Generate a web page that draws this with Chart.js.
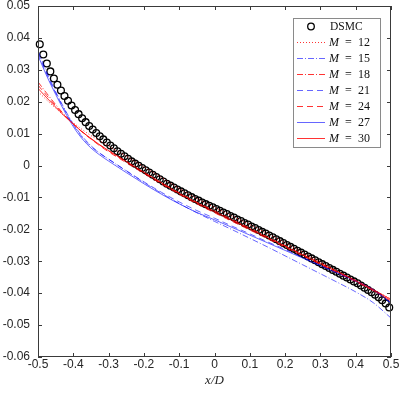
<!DOCTYPE html>
<html>
<head>
<meta charset="utf-8">
<script src="https://cdn.jsdelivr.net/npm/chart.js@4.4.0/dist/chart.umd.min.js"></script>
<style>
  html, body { margin: 0; padding: 0; background: #fff; }
</style>
</head>
<body>
<canvas id="myChart" width="399" height="397"></canvas>
<script>
// DSMC samples (x/D and value)
const dsmcX = [
  -0.495, -0.485, -0.475, -0.465, -0.455, -0.445, -0.435, -0.425, -0.415, -0.405,
  -0.395, -0.385, -0.375, -0.365, -0.355, -0.345, -0.335, -0.325, -0.315, -0.305,
  -0.295, -0.285, -0.275, -0.265, -0.255, -0.245, -0.235, -0.225, -0.215, -0.205,
  -0.195, -0.185, -0.175, -0.165, -0.155, -0.145, -0.135, -0.125, -0.115, -0.105,
  -0.095, -0.085, -0.075, -0.065, -0.055, -0.045, -0.035, -0.025, -0.015, -0.005,
  0.005, 0.015, 0.025, 0.035, 0.045, 0.055, 0.065, 0.075, 0.085, 0.095,
  0.105, 0.115, 0.125, 0.135, 0.145, 0.155, 0.165, 0.175, 0.185, 0.195,
  0.205, 0.215, 0.225, 0.235, 0.245, 0.255, 0.265, 0.275, 0.285, 0.295,
  0.305, 0.315, 0.325, 0.335, 0.345, 0.355, 0.365, 0.375, 0.385, 0.395,
  0.405, 0.415, 0.425, 0.435, 0.445, 0.455, 0.465, 0.475, 0.485, 0.495
];
const dsmcY = [
  0.0380, 0.0348, 0.0320, 0.0295, 0.0273, 0.0253, 0.0235, 0.0218, 0.0203, 0.0188,
  0.0174, 0.0161, 0.0148, 0.0136, 0.0124, 0.0113, 0.0102, 0.0092, 0.0082, 0.0072,
  0.0063, 0.0054, 0.0045, 0.0037, 0.0029, 0.0021, 0.0013, 0.0006, -0.0001, -0.0008,
  -0.0015, -0.0022, -0.0029, -0.0036, -0.0043, -0.0050, -0.0057, -0.0063, -0.0069, -0.0075,
  -0.0081, -0.0087, -0.0093, -0.0099, -0.0105, -0.0110, -0.0116, -0.0121, -0.0126, -0.0131,
  -0.0136, -0.0142, -0.0147, -0.0152, -0.0158, -0.0163, -0.0169, -0.0174, -0.0180, -0.0185,
  -0.0191, -0.0196, -0.0202, -0.0208, -0.0213, -0.0219, -0.0225, -0.0231, -0.0237, -0.0243,
  -0.0249, -0.0255, -0.0261, -0.0267, -0.0273, -0.0279, -0.0285, -0.0291, -0.0297, -0.0303,
  -0.0309, -0.0315, -0.0321, -0.0327, -0.0333, -0.0339, -0.0345, -0.0351, -0.0357, -0.0363,
  -0.0369, -0.0376, -0.0383, -0.0390, -0.0397, -0.0405, -0.0413, -0.0422, -0.0432, -0.0445
];

// x/D positions shared by the M curves
const gridX = [-0.5, -0.475, -0.45, -0.425, -0.4, -0.375, -0.35, -0.325, -0.3, -0.25, -0.2, -0.15,
  -0.1, -0.05, 0, 0.05, 0.1, 0.15, 0.2, 0.25, 0.3, 0.35, 0.4, 0.45, 0.5];

const m12 = [0.0232, 0.0205, 0.0180, 0.0156, 0.0134, 0.0113, 0.0094, 0.0077, 0.0061, 0.0029, -0.0004, -0.0038,
  -0.0072, -0.0103, -0.0131, -0.0158, -0.0185, -0.0213, -0.0242, -0.0272, -0.0302, -0.0331, -0.0360, -0.0390, -0.0418];
const m15 = [0.0360, 0.0292, 0.0232, 0.0178, 0.0130, 0.0092, 0.0062, 0.0039, 0.0020, -0.0017, -0.0053, -0.0087,
  -0.0119, -0.0148, -0.0175, -0.0201, -0.0228, -0.0255, -0.0283, -0.0311, -0.0339, -0.0367, -0.0396, -0.0430, -0.0478];
const m18 = [0.0262, 0.0226, 0.0191, 0.0159, 0.0131, 0.0106, 0.0084, 0.0064, 0.0046, 0.0012, -0.0022, -0.0055,
  -0.0086, -0.0115, -0.0142, -0.0169, -0.0196, -0.0224, -0.0251, -0.0279, -0.0306, -0.0334, -0.0362, -0.0392, -0.0426];
const m21 = [0.0352, 0.0286, 0.0228, 0.0175, 0.0127, 0.0089, 0.0060, 0.0038, 0.0020, -0.0016, -0.0051, -0.0084,
  -0.0114, -0.0141, -0.0165, -0.0190, -0.0214, -0.0239, -0.0263, -0.0288, -0.0312, -0.0337, -0.0362, -0.0390, -0.0432];
const m24 = [0.0252, 0.0219, 0.0187, 0.0157, 0.0130, 0.0105, 0.0083, 0.0062, 0.0043, 0.0009, -0.0025, -0.0058,
  -0.0090, -0.0120, -0.0148, -0.0175, -0.0202, -0.0229, -0.0256, -0.0283, -0.0310, -0.0337, -0.0364, -0.0392, -0.0424];
const m27 = [0.0345, 0.0280, 0.0223, 0.0170, 0.0122, 0.0084, 0.0055, 0.0033, 0.0014, -0.0022, -0.0057, -0.0090,
  -0.0120, -0.0147, -0.0170, -0.0194, -0.0218, -0.0242, -0.0266, -0.0290, -0.0314, -0.0338, -0.0362, -0.0389, -0.0430];
const m30 = [0.0242, 0.0212, 0.0183, 0.0155, 0.0130, 0.0106, 0.0085, 0.0065, 0.0047, 0.0013, -0.0021, -0.0054,
  -0.0087, -0.0117, -0.0145, -0.0172, -0.0199, -0.0226, -0.0253, -0.0280, -0.0307, -0.0334, -0.0361, -0.0389, -0.0420];

const RED = 'rgba(255,0,0,0.8)';
const BLUE = 'rgba(0,0,255,0.6)';

function pts(xs, ys) {
  return xs.map((x, i) => ({ x: x, y: ys[i] }));
}

function mLine(label, ys, color, dash, ord) {
  return {
    label: label,
    data: pts(gridX, ys),
    borderColor: color,
    borderWidth: 1,
    borderDash: dash,
    pointRadius: 0,
    pointHoverRadius: 0,
    fill: false,
    cubicInterpolationMode: 'monotone',
    order: ord
  };
}

// tick label format, 0 without decimals
function fmt(v, d) {
  if (Math.abs(v) < 1e-9) return '0';
  return v.toFixed(d);
}

// box round the plot with inward ticks
const framePlugin = {
  id: 'frame',
  afterDatasetsDraw(chart) {
    const { ctx, chartArea: a, scales } = chart;
    const x = scales.x, y = scales.y;
    ctx.save();
    ctx.strokeStyle = '#3a3a3a';
    ctx.lineWidth = 1;
    ctx.beginPath();
    x.ticks.forEach(t => {
      const px = Math.round(x.getPixelForValue(t.value)) + 0.5;
      ctx.moveTo(px, a.bottom); ctx.lineTo(px, a.bottom - 4);
      ctx.moveTo(px, a.top); ctx.lineTo(px, a.top + 4);
    });
    y.ticks.forEach(t => {
      const py = Math.round(y.getPixelForValue(t.value)) + 0.5;
      ctx.moveTo(a.left, py); ctx.lineTo(a.left + 4, py);
      ctx.moveTo(a.right, py); ctx.lineTo(a.right - 4, py);
    });
    ctx.stroke();
    ctx.strokeRect(Math.round(a.left) + 0.5, Math.round(a.top) + 0.5,
      Math.round(a.right - a.left) - 1, Math.round(a.bottom - a.top) - 1);
    ctx.restore();
  }
};

// legend box in the upper right corner
const legendPlugin = {
  id: 'boxLegend',
  afterDraw(chart) {
    const ctx = chart.ctx;
    const bx = 293.5, by = 18.5, bw = 87, bh = 129;
    ctx.save();
    ctx.fillStyle = '#fff';
    ctx.fillRect(bx, by, bw, bh);
    ctx.strokeStyle = '#8a8a8a';
    ctx.lineWidth = 1;
    ctx.strokeRect(bx, by, bw, bh);
    ctx.textBaseline = 'middle';
    ctx.fillStyle = '#111';
    chart.data.datasets.forEach((ds, i) => {
      const ry = Math.round(by + 7.5 + i * 15.95) + 0.5;
      if (ds.pointRadius > 0) {
        ctx.setLineDash([]);
        ctx.strokeStyle = ds.pointBorderColor;
        ctx.lineWidth = ds.pointBorderWidth;
        ctx.beginPath();
        ctx.arc(311, ry, 3.3, 0, Math.PI * 2);
        ctx.stroke();
        ctx.font = '11.5px "Liberation Serif", serif';
        ctx.fillText(ds.label, 330, ry);
      } else {
        ctx.setLineDash(ds.borderDash || []);
        ctx.strokeStyle = ds.borderColor;
        ctx.lineWidth = ds.borderWidth;
        ctx.beginPath();
        ctx.moveTo(297, ry);
        ctx.lineTo(325, ry);
        ctx.stroke();
        ctx.setLineDash([]);
        const num = ds.label.split('=')[1].trim();
        ctx.font = 'italic 12px "Liberation Serif", serif';
        ctx.fillText('M', 329, ry);
        ctx.font = '12px "Liberation Serif", serif';
        ctx.fillText('=', 345, ry);
        ctx.fillText(num, 358, ry);
      }
    });
    ctx.restore();
  }
};

const ctx = document.getElementById('myChart').getContext('2d');
const chart = new Chart(ctx, {
  type: 'line',
  data: {
    datasets: [
      {
        label: 'DSMC',
        data: pts(dsmcX, dsmcY),
        showLine: false,
        pointStyle: 'circle',
        pointRadius: 3.4,
        pointHoverRadius: 3.4,
        pointBorderWidth: 1.3,
        pointBorderColor: '#000',
        pointBackgroundColor: 'rgba(0,0,0,0)',
        borderColor: '#000',
        clip: 6,
        order: 10
      },
      mLine('M = 12', m12, RED, [1, 2], 7),
      mLine('M = 15', m15, BLUE, [6, 2, 1, 2], 6),
      mLine('M = 18', m18, RED, [6, 2, 1, 2], 5),
      mLine('M = 21', m21, BLUE, [6, 4], 4),
      mLine('M = 24', m24, RED, [6, 4], 3),
      mLine('M = 27', m27, BLUE, [], 2),
      mLine('M = 30', m30, RED, [], 1)
    ]
  },
  options: {
    responsive: false,
    animation: false,
    events: [],
    layout: { autoPadding: false, padding: { top: 6, right: 8, left: 0, bottom: 0 } },
    plugins: {
      legend: { display: false },
      tooltip: { enabled: false }
    },
    scales: {
      x: {
        type: 'linear',
        min: -0.5,
        max: 0.5,
        ticks: {
          stepSize: 0.1,
          padding: 0,
          maxRotation: 0,
          color: '#262626',
          font: { family: '"Liberation Sans", Arial, sans-serif', size: 12 },
          callback: v => fmt(v, 1)
        },
        grid: { display: false, drawTicks: false },
        border: { display: false },
        title: {
          display: true,
          text: 'x/D',
          color: '#262626',
          font: { family: '"Liberation Serif", serif', size: 13, style: 'italic' },
          padding: { top: 0, bottom: 9 }
        },
        afterFit: s => {
          s.height = 40;
          s.paddingLeft = 0;
          s.paddingRight = 0;
        }
      },
      y: {
        type: 'linear',
        min: -0.06,
        max: 0.05,
        ticks: {
          stepSize: 0.01,
          padding: 8,
          color: '#262626',
          font: { family: '"Liberation Sans", Arial, sans-serif', size: 12 },
          callback: v => fmt(v, 2)
        },
        grid: { display: false, drawTicks: false },
        border: { display: false },
        afterFit: s => {
          s.width = 38;
          s.paddingTop = 0;
          s.paddingBottom = 0;
        }
      }
    }
  },
  plugins: [framePlugin, legendPlugin]
});
</script>
</body>
</html>
